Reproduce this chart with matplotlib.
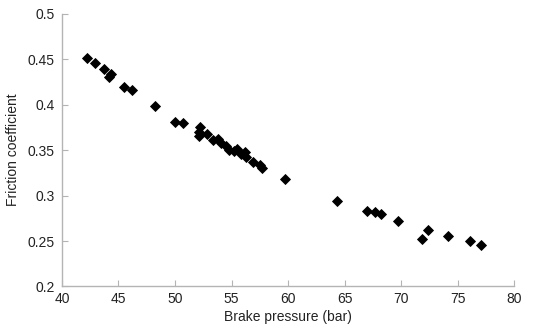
# -*- coding: utf-8 -*-
"""
friction coefficient vs brake pressure, scatter of diamonds
"""

import matplotlib
matplotlib.use("Agg")
import matplotlib.pyplot as plt

# brake pressure (bar)
pressure = [42.2, 42.9, 43.7, 44.3, 44.2, 45.5, 46.2, 48.2, 50.0, 50.7,
            52.2, 52.1, 52.1, 52.8, 53.4, 53.8, 54.1, 54.5, 54.8, 55.2,
            55.5, 55.8, 56.2, 56.3, 56.9, 57.5, 57.7, 59.7,
            64.3, 67.0, 67.7, 68.2, 69.7, 71.8, 72.4, 74.1, 76.1, 77.1]
# friction coefficient
friction = [0.451, 0.446, 0.439, 0.434, 0.430, 0.419, 0.416, 0.399, 0.381, 0.380,
            0.376, 0.370, 0.366, 0.368, 0.361, 0.362, 0.358, 0.355, 0.350, 0.349,
            0.351, 0.346, 0.348, 0.343, 0.337, 0.334, 0.330, 0.318,
            0.294, 0.283, 0.282, 0.280, 0.272, 0.252, 0.262, 0.256, 0.250, 0.246]

xticks = [40, 45, 50, 55, 60, 65, 70, 75, 80]
yticks = [0.2, 0.25, 0.3, 0.35, 0.4, 0.45, 0.5]
ytick_labels = ["0.2", "0.25", "0.3", "0.35", "0.4", "0.45", "0.5"]

plt.rcParams['font.family'] = ['Liberation Sans', 'DejaVu Sans']

fig = plt.figure(figsize=(5.34, 3.30), dpi=100)
ax = fig.add_axes([0.116, 0.132, 0.847, 0.826])

ax.plot(pressure, friction, linestyle='none', marker='D', markersize=5.0,
        markeredgewidth=0.6, color='black', markeredgecolor='black')

ax.set_xlim(40, 80)
ax.set_ylim(0.2, 0.5)
ax.set_xticks(xticks)
ax.set_yticks(yticks)
ax.set_yticklabels(ytick_labels)

gray = '#b4b4b4'
for side in ['top', 'right']:
	ax.spines[side].set_visible(False)
for side in ['left', 'bottom']:
	ax.spines[side].set_color(gray)
	ax.spines[side].set_linewidth(1.0)
ax.tick_params(direction='in', length=4, width=0.8, color=gray,
               labelsize=10, labelcolor='#222222')
ax.tick_params(axis='x', pad=4)
ax.tick_params(axis='y', pad=5)

ax.set_xlabel('Brake pressure (bar)', fontsize=10, color='#222222', labelpad=3)
ax.set_ylabel('Friction coefficient', fontsize=10, color='#222222', labelpad=6)

fig.savefig('out.png', dpi=100)
